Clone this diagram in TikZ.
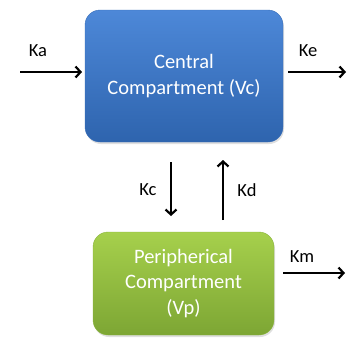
\documentclass[tikz,border=0pt]{standalone}
\usepackage{fontspec}
\setmainfont{Carlito}
\usetikzlibrary{arrows.meta,shadows}
\definecolor{bluetop}{HTML}{4D88D8}
\definecolor{bluebot}{HTML}{2E64AE}
\definecolor{blueedge}{HTML}{3A6FB8}
\definecolor{greentop}{HTML}{A6D04C}
\definecolor{greenbot}{HTML}{7DA634}
\definecolor{greenedge}{HTML}{8AB43E}
\tikzset{
  box/.style={rounded corners=15pt, minimum width=#1, align=center, text=white,
    font=\fontsize{20.5}{25.5}\selectfont, inner sep=0pt,
    drop shadow={shadow xshift=1pt, shadow yshift=-2pt, opacity=0.25}},
  bluebox/.style={box=198pt, minimum height=132pt, top color=bluetop, bottom color=bluebot, draw=blueedge},
  greenbox/.style={box=181pt, minimum height=103pt, top color=greentop, bottom color=greenbot, draw=greenedge},
  flow/.style={line width=2.2pt, -{Straight Barb[length=5pt,width=11pt,line width=2.2pt]}},
  lab/.style={font=\fontsize{18.5}{20}\selectfont, text=black, inner sep=0pt}
}
\begin{document}
\begin{tikzpicture}[x=1pt,y=-1pt]
\useasboundingbox (0,0) rectangle (347,338);
\node[bluebox] (central) at (184,76) {Central\\Compartment (Vc)};
\node[greenbox] (periph) at (183.5,283.5) {Peripherical\\Compartment\\(Vp)};
% Ka
\coordinate (kaS) at (20,72);
\coordinate (kaE) at (82,72);
\draw[flow] (kaS) -- (kaE);
\node[lab] (ka) at (38,51) {Ka};
% Ke
\coordinate (keS) at (288,72);
\coordinate (keE) at (346,72);
\draw[flow] (keS) -- (keE);
\node[lab] (ke) at (308,51) {Ke};
% Kc
\coordinate (kcS) at (171,162);
\coordinate (kcE) at (171,216);
\draw[flow] (kcS) -- (kcE);
\node[lab] (kc) at (148,190) {Kc};
% Kd
\coordinate (kdS) at (223,220);
\coordinate (kdE) at (223,160);
\draw[flow] (kdS) -- (kdE);
\node[lab] (kd) at (247,190) {Kd};
% Km
\coordinate (kmS) at (283,273);
\coordinate (kmE) at (345,273);
\draw[flow] (kmS) -- (kmE);
\node[lab] (km) at (302,257) {Km};
\end{tikzpicture}
\end{document}
